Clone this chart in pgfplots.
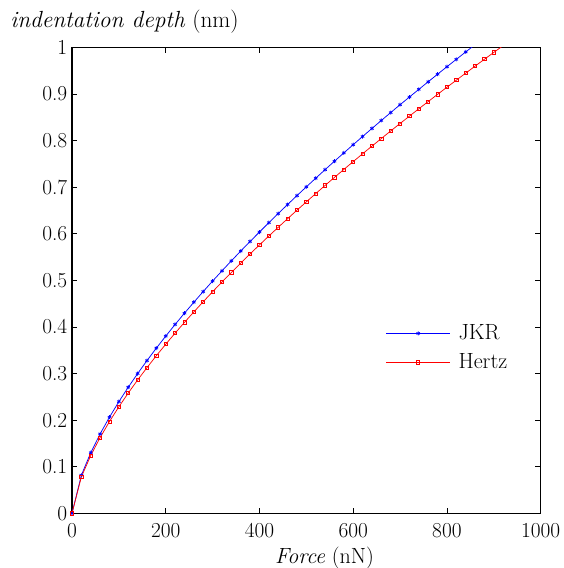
\documentclass[border=0pt]{standalone}
\usepackage{pgfplots}
\usepackage{pgfplotstable}
\pgfplotsset{compat=1.18}
\pgfplotstableread{
F d
0 0
20 0.0819
40 0.1301
60 0.1704
80 0.2065
100 0.2396
120 0.2706
140 0.2998
160 0.3278
180 0.3545
200 0.3803
220 0.4053
240 0.4295
260 0.4530
280 0.4760
300 0.4984
320 0.5203
340 0.5418
360 0.5628
380 0.5834
400 0.6037
420 0.6237
440 0.6433
460 0.6627
480 0.6818
500 0.7006
520 0.7191
540 0.7375
560 0.7556
580 0.7734
600 0.7911
620 0.8086
640 0.8259
660 0.8430
680 0.8600
700 0.8768
720 0.8934
740 0.9098
760 0.9261
780 0.9423
800 0.9584
820 0.9742
840 0.9901
860 1.0057
}\jkr
\pgfplotstableread{
F d
0 0
20 0.0782
40 0.1241
60 0.1626
80 0.1970
100 0.2286
120 0.2581
140 0.2861
160 0.3127
180 0.3383
200 0.3629
220 0.3867
240 0.4098
260 0.4322
280 0.4541
300 0.4755
320 0.4964
340 0.5169
360 0.5370
380 0.5567
400 0.5760
420 0.5951
440 0.6138
460 0.6323
480 0.6505
500 0.6684
520 0.6861
540 0.7036
560 0.7209
580 0.7379
600 0.7548
620 0.7715
640 0.7880
660 0.8043
680 0.8205
700 0.8365
720 0.8524
740 0.8681
760 0.8836
780 0.8991
800 0.9144
820 0.9295
840 0.9446
860 0.9596
880 0.9744
900 0.9891
920 1.0037
}\hertz
\begin{document}
\fontsize{16}{19}\selectfont
\begin{tikzpicture}[font=\fontsize{16}{19}\selectfont]
\useasboundingbox (-54pt,-41pt) rectangle (369pt,385pt);
\begin{axis}[
  scale only axis, width=351.5pt, height=349.5pt,
  xmin=0, xmax=1000, ymin=0, ymax=1,
  xtick={0,200,400,600,800,1000},
  ytick={0,0.1,0.2,0.3,0.4,0.5,0.6,0.7,0.8,0.9,1},
  tick align=inside, major tick length=4pt,
  tick style={black, line width=0.5pt},
  axis line style={black, line width=0.8pt},
  /pgf/number format/assume math mode=true,
  every tick label/.append style={font=\fontsize{16}{19}\selectfont},
  yticklabel style={/pgf/number format/fixed, /pgf/number format/precision=1, xshift=2pt},
  xticklabel style={/pgf/number format/fixed, /pgf/number format/1000 sep={}, yshift=-2pt},
  every axis x label/.style={at={(axis description cs:0.5387,-0.0959)}, anchor=center, font=\fontsize{16.5}{19}\selectfont},
  every axis y label/.style={at={(axis description cs:-0.1323,1.0543)}, anchor=west, inner sep=0pt, font=\fontsize{17.5}{20}\selectfont},
  xlabel={\textit{Force} (nN)},
  ylabel={\textit{indentation depth} (nm)},
  legend style={at={(0.669,0.355)}, anchor=west, draw=none, fill=none,
    font=\fontsize{16.5}{19}\selectfont, inner sep=0pt,
    nodes={inner sep=1pt, text height=12pt, text depth=3pt},
    row sep=4.75pt,
    /tikz/every odd column/.append style={column sep=5pt}},
  legend cell align=left,
  legend image code/.code={\draw[mark repeat=2,mark phase=2,#1] plot coordinates {(0pt,0pt) (24pt,0pt) (48pt,0pt)};},
]
\addplot[blue, line width=0.55pt, mark=asterisk, mark size=1.5pt, mark options={solid, line width=0.55pt}] table[x=F,y=d] {\jkr};
\addlegendentry{JKR}
\addplot[red, line width=0.55pt, mark=square, mark size=1.2pt, mark options={solid, line width=0.55pt}] table[x=F,y=d] {\hertz};
\addlegendentry{Hertz}
\end{axis}
\end{tikzpicture}
\end{document}
